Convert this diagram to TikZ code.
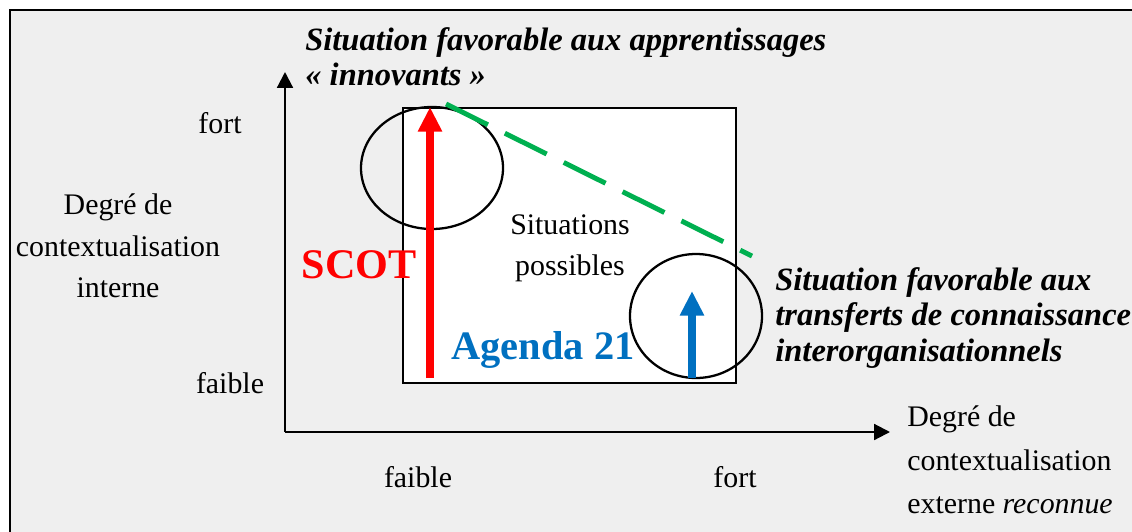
\documentclass[tikz,border=0pt]{standalone}
\usepackage{fontspec}
\setmainfont{Liberation Serif}
\usetikzlibrary{arrows.meta}
\definecolor{fondgris}{RGB}{239,239,239}
\definecolor{rougescot}{RGB}{255,0,0}
\definecolor{bleuagenda}{RGB}{0,112,192}
\definecolor{vertpointille}{RGB}{0,176,80}
\begin{document}
\begin{tikzpicture}[x=0.02cm, y=-0.02cm, line join=miter,
    txt/.style={inner sep=0pt, font=\fontsize{17}{23.5}\selectfont},
    titre/.style={inner sep=0pt, align=left, font=\fontsize{18.5}{20}\selectfont\bfseries\itshape},
    axe/.style={line width=1.2pt, -{Triangle[length=9pt,width=9pt]}},
    fleche/.style={line width=4pt, -{Triangle[length=14pt,width=13pt]}},
    cadre/.style={line width=1.1pt}]
  \useasboundingbox (0,0) rectangle (1132,531);
  \fill[white] (0,0) rectangle (1132,531);
  \filldraw[fill=fondgris, cadre] (10,10) rectangle (1150,550);
  % axes
  \coordinate (O) at (285,432);
  \coordinate (Ytop) at (285,72);
  \coordinate (Xend) at (890,432);
  \draw[axe] (O) -- (Ytop);
  \draw[axe] (O) -- (Xend);
  % zone des situations possibles
  \filldraw[fill=white, cadre] (403,108) rectangle (736,383);
  \node[txt, align=center] (possibles) at (570,248) {Situations\\possibles};
  % ellipses
  \coordinate (cA) at (432,168);
  \coordinate (cB) at (696,316);
  \draw[line width=1.3pt] (cA) ellipse [x radius=71, y radius=61];
  \draw[line width=1.3pt] (cB) ellipse [x radius=66, y radius=62];
  % pointilles
  \coordinate (vA) at (446,104);
  \coordinate (vB) at (752,256);
  \draw[vertpointille, line width=2.8pt, dash pattern=on 26.6pt off 10.8pt] (vA) -- (vB);
  % fleches
  \coordinate (scotbas) at (430,378);
  \coordinate (scothaut) at (430,107);
  \coordinate (agbas) at (692,378);
  \coordinate (aghaut) at (692,291);
  \draw[fleche, rougescot] (scotbas) -- (scothaut);
  \draw[fleche, bleuagenda] (agbas) -- (aghaut);
  \node[inner sep=0pt, text=rougescot, font=\fontsize{24}{24}\selectfont\bfseries] (scot) at (359,265) {SCOT};
  \node[inner sep=0pt, text=bleuagenda, font=\fontsize{23}{23}\selectfont\bfseries] (agenda) at (543,350) {Agenda 21};
  % libelles des axes
  \node[txt] (yfort) at (220,123) {fort};
  \node[txt] (yfaible) at (230,383) {faible};
  \node[txt] (xfaible) at (418,477) {faible};
  \node[txt] (xfort) at (735,477) {fort};
  \node[txt, align=center] (ylabel) at (118,246) {Degré de\\contextualisation\\interne};
  \node[txt, align=left, anchor=west, font=\fontsize{17}{24.7}\selectfont] (xlabel) at (907,460)
    {Degré de\\contextualisation\\externe \textit{reconnue}};
  % titres
  \node[titre, anchor=west] (innov) at (305,57) {Situation favorable aux apprentissages\\« innovants »};
  \node[titre, anchor=west, font=\fontsize{18.5}{20.4}\selectfont\bfseries\itshape] (transf) at (775,318)
    {Situation favorable aux\\transferts de connaissance\\interorganisationnels};
\end{tikzpicture}
\end{document}
